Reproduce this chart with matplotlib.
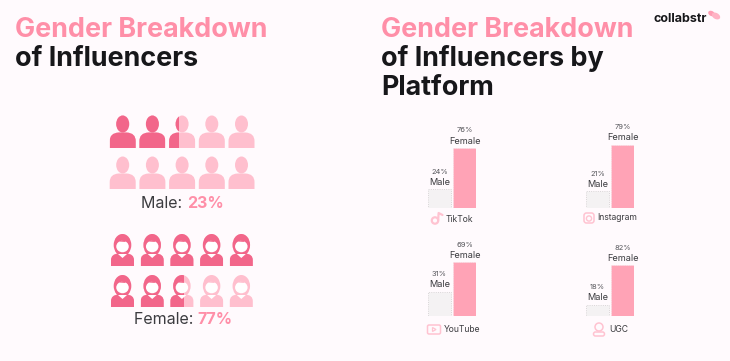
"""
plot.py
Influencer gender breakdown: pictograms (left) and platform bars (right)
Output: out.png
"""
import matplotlib
matplotlib.use("Agg")
import matplotlib.pyplot as plt
from matplotlib.patches import Ellipse, PathPatch, Polygon, Rectangle, FancyBboxPatch, Circle
from matplotlib.path import Path

# ── data ────────────────────────────────────────────────────────────────────
PLATFORMS = ["TikTok", "Instagram", "YouTube", "UGC"]
MALE = [24, 21, 31, 18]
FEMALE = [76, 79, 69, 82]
SEX_LABELS = ["Male", "Female"]

MALE_TOTAL = 23
FEMALE_TOTAL = 77
# how many of the 10 figures are coloured in the picture
MALE_ICONS = 2.38
FEMALE_ICONS = 7.57

# ── colours & layout ────────────────────────────────────────────────────────
BG = "#FFFAFD"
PINK = "#FF8FA8"
DARK_ICON = "#F2668A"
LIGHT_ICON = "#FFBFCE"
BAR_F = "#FFA3B6"
BAR_M = "#F4F2F3"
EDGE_M = "#CFCDCE"
INK = "#17171A"
GREY = "#3C3C40"
W, H = 730, 361

plt.rcParams["font.family"] = ["Inter", "DejaVu Sans"]

fig = plt.figure(figsize=(W / 100, H / 100), dpi=100, facecolor=BG)
canvas = fig.add_axes([0, 0, 1, 1])
canvas.set_xlim(0, W)
canvas.set_ylim(H, 0)
canvas.axis("off")


def male_icon(cx, top, color, clip=None):
    body = Path(
        [(cx - 13, top + 32), (cx - 13, top + 25), (cx - 13, top + 17), (cx - 4, top + 16.5),
         (cx + 4, top + 16.5), (cx + 13, top + 17), (cx + 13, top + 25),
         (cx + 13, top + 32), (cx - 13, top + 32)],
        [Path.MOVETO, Path.LINETO, Path.CURVE3, Path.CURVE3, Path.LINETO,
         Path.CURVE3, Path.CURVE3, Path.LINETO, Path.CLOSEPOLY],
    )
    parts = [PathPatch(body, fc=color, ec="none"),
             Ellipse((cx, top + 8), 13, 17, fc=color, ec="none")]
    for p in parts:
        canvas.add_patch(p)
        if clip is not None:
            p.set_clip_path(clip)


def female_icon(cx, top, color, clip=None):
    body = Path(
        [(cx - 11.5, top + 32), (cx - 11.5, top + 26), (cx - 11.5, top + 20), (cx - 4, top + 19.5),
         (cx + 4, top + 19.5), (cx + 11.5, top + 20), (cx + 11.5, top + 26),
         (cx + 11.5, top + 32), (cx - 11.5, top + 32)],
        [Path.MOVETO, Path.LINETO, Path.CURVE3, Path.CURVE3, Path.LINETO,
         Path.CURVE3, Path.CURVE3, Path.LINETO, Path.CLOSEPOLY],
    )
    parts = [Ellipse((cx, top + 11), 17.5, 22, fc=color, ec="none"),
             Ellipse((cx, top + 12.5), 12.5, 11.5, fc="white", ec="none"),
             Polygon([(cx - 3.5, top + 7.5), (cx + 1, top + 6), (cx + 3.5, top + 8)], fc=color, ec="none"),
             PathPatch(body, fc=color, ec="none"),
             Polygon([(cx - 4.5, top + 20), (cx + 4.5, top + 20), (cx, top + 24)], fc="white", ec="none")]
    for p in parts:
        canvas.add_patch(p)
        if clip is not None:
            p.set_clip_path(clip)


def icon_grid(draw, x0, rows, half, coloured):
    for i in range(10):
        cx = x0 + (i % 5) * 29.7
        top = rows[i // 5]
        draw(cx, top, LIGHT_ICON)
        share = min(max(coloured - i, 0), 1)
        if share > 0:
            clip = Rectangle((cx - half, top - 1), 2 * half * share, 36,
                             transform=canvas.transData)
            draw(cx, top, DARK_ICON, clip)


icon_grid(male_icon, 122.7, [116, 157], 13, MALE_ICONS)
icon_grid(female_icon, 122.5, [234, 275], 11.7, FEMALE_ICONS)

# ── titles ──────────────────────────────────────────────────────────────────
TS = 19.4
canvas.text(15, 37, "Gender Breakdown", color=PINK, fontsize=TS, fontweight="bold")
canvas.text(15, 66, "of Influencers", color=INK, fontsize=TS, fontweight="bold")
canvas.text(381, 37, "Gender Breakdown", color=PINK, fontsize=TS, fontweight="bold")
canvas.text(381, 66, "of Influencers by", color=INK, fontsize=TS, fontweight="bold")
canvas.text(381, 95, "Platform", color=INK, fontsize=TS, fontweight="bold")

# pictogram captions
canvas.text(187, 204, "Male: ", color=GREY, fontsize=11.5, va="center", ha="right")
canvas.text(187, 204, f"{MALE_TOTAL}%", color=PINK, fontsize=11.5, fontweight="bold", va="center")
canvas.text(197.5, 320, "Female: ", color=GREY, fontsize=11.5, va="center", ha="right")
canvas.text(197.5, 320, f"{FEMALE_TOTAL}%", color=PINK, fontsize=11.5, fontweight="bold", va="center")

# ── bars ────────────────────────────────────────────────────────────────────
# left edge, baseline, px per 100 %
BOXES = [(428, 208, 79), (586, 208, 80), (428, 316, 78), (586, 316, 62)]
for name, m, f, (left, base, span) in zip(PLATFORMS, MALE, FEMALE, BOXES):
    ax = fig.add_axes([left / W, 1 - base / H, 48 / W, span / H])
    ax.set_xlim(-0.46, 1.46)
    ax.set_ylim(0, 100)
    ax.axis("off")
    ax.bar([0], [m], width=0.92, color=BAR_M, edgecolor=EDGE_M, linewidth=0.6, linestyle=":")
    ax.bar([1], [f], width=0.92, color=BAR_F, edgecolor="#F4E3E8", linewidth=0.6, linestyle=":")
    for x, v, lab in zip([0, 1], [m, f], SEX_LABELS):
        ax.annotate(lab, (x, v), xytext=(0, 5), textcoords="offset points", ha="center",
                    va="center", fontsize=6.6, color=GREY, annotation_clip=False)
        ax.annotate(f"{v}%", (x, v), xytext=(0, 12.6), textcoords="offset points", ha="center",
                    va="center", fontsize=5.4, color="#55555A", annotation_clip=False)

# ── platform labels and icons ───────────────────────────────────────────────
canvas.text(446, 219, PLATFORMS[0], fontsize=6.2, color=GREY, va="center")
canvas.text(597.5, 218, PLATFORMS[1], fontsize=6.2, color=GREY, va="center")
canvas.text(444, 329, PLATFORMS[2], fontsize=6.2, color=GREY, va="center")
canvas.text(609, 329, PLATFORMS[3], fontsize=6.2, color=GREY, va="center")

ICON = "#FFC3D1"
# tiktok note
canvas.add_patch(Circle((435, 220.5), 3.2, fc="none", ec=ICON, lw=1.6))
canvas.plot([438.2, 438.6, 442.5], [220, 213, 215], color=ICON, lw=1.6, solid_capstyle="round")
# instagram
canvas.add_patch(FancyBboxPatch((584, 213), 10, 10, boxstyle="round,pad=0,rounding_size=2.5",
                                fc="none", ec=ICON, lw=1.1))
canvas.add_patch(Circle((589, 218.5), 2.6, fc="none", ec=ICON, lw=1))
# youtube
canvas.add_patch(FancyBboxPatch((427.5, 325), 13, 9, boxstyle="round,pad=0,rounding_size=1.5",
                                fc="none", ec=ICON, lw=1.1))
canvas.add_patch(Polygon([(432.5, 327.5), (432.5, 331.5), (436, 329.5)], fc="none", ec=ICON, lw=0.9))
# ugc person
canvas.add_patch(Circle((599, 327), 4, fc="none", ec=ICON, lw=1.1))
canvas.add_patch(FancyBboxPatch((593.5, 332), 11, 4, boxstyle="round,pad=0,rounding_size=2",
                                fc="none", ec=ICON, lw=1.1))

# ── logo ────────────────────────────────────────────────────────────────────
canvas.text(653, 19, "collabstr", color=INK, fontsize=9, fontweight="bold", va="center")
canvas.add_patch(Ellipse((711.5, 13.5), 7, 5, angle=30, fc="#FF9DB3", ec="none"))
canvas.add_patch(Ellipse((716, 16), 9, 6, angle=30, fc="#FFB3C4", ec="none"))

fig.savefig("out.png", dpi=100, facecolor=BG)
